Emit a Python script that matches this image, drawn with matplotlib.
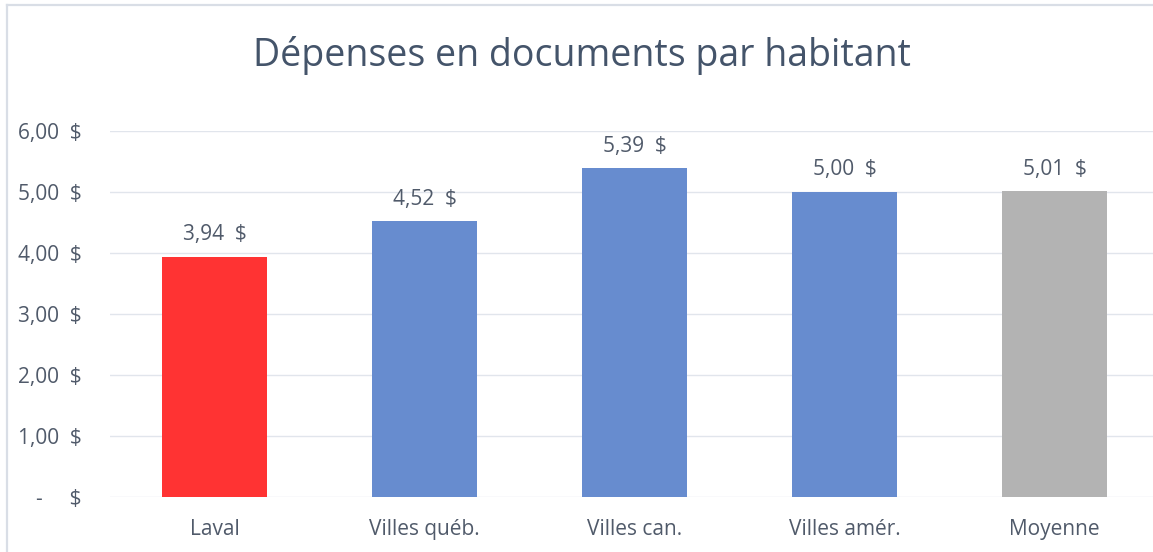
import matplotlib
matplotlib.use("Agg")
import matplotlib.pyplot as plt
from matplotlib.lines import Line2D

categories = ["Laval", "Villes québ.", "Villes can.", "Villes amér.", "Moyenne"]
values = [3.94, 4.52, 5.39, 5.00, 5.01]
bar_colors = ["#FF3333", "#678CCF", "#678CCF", "#678CCF", "#B3B3B3"]
yticks = [0, 1, 2, 3, 4, 5, 6]
ytick_labels = ["-     $", "1,00  $", "2,00  $", "3,00  $", "4,00  $", "5,00  $", "6,00  $"]
title = "Dépenses en documents par habitant"

plt.rcParams['font.family'] = ['Open Sans', 'DejaVu Sans']
W, H = 1153, 552
fig = plt.figure(figsize=(W/100, H/100), dpi=100)
ax = fig.add_axes([109.5/W, 55/H, 1050/W, 366/H])

x = list(range(len(categories)))
bars = ax.bar(x, values, width=0.5, color=bar_colors, zorder=3)
ax.set_xlim(-0.5, len(categories) - 0.5)
ax.set_ylim(0, 6)
ax.set_yticks(yticks)
ax.set_yticklabels(ytick_labels)
ax.set_xticks(x)
ax.set_xticklabels(categories)
ax.grid(axis='y', color='#E1E5EC', linewidth=1.0, zorder=0)
for s in ax.spines.values():
    s.set_visible(False)
ax.tick_params(axis='both', length=0, colors='#505A6A', labelsize=15)
ax.tick_params(axis='y', pad=20)
ax.tick_params(axis='x', pad=16)
ax.set_facecolor('none')

for b, v in zip(bars, values):
    ax.annotate(f"{v:.2f}  $".replace('.', ','), (b.get_x() + b.get_width()/2, v),
                xytext=(0, 11.9), textcoords='offset points', ha='center', va='baseline',
                fontsize=15, color='#505A6A')

fig.text(582/W, 1 - 66/H, title, ha='center', va='baseline', fontsize=27, color='#44546A')

# chart frame
fig.add_artist(Line2D([6.5/W, 6.5/W], [0, 1 - 4.5/H], transform=fig.transFigure, color='#D9DEE6', linewidth=1.6))
fig.add_artist(Line2D([6.5/W, 1], [1 - 4.5/H, 1 - 4.5/H], transform=fig.transFigure, color='#D9DEE6', linewidth=1.6))

fig.savefig("out.png", dpi=100)
